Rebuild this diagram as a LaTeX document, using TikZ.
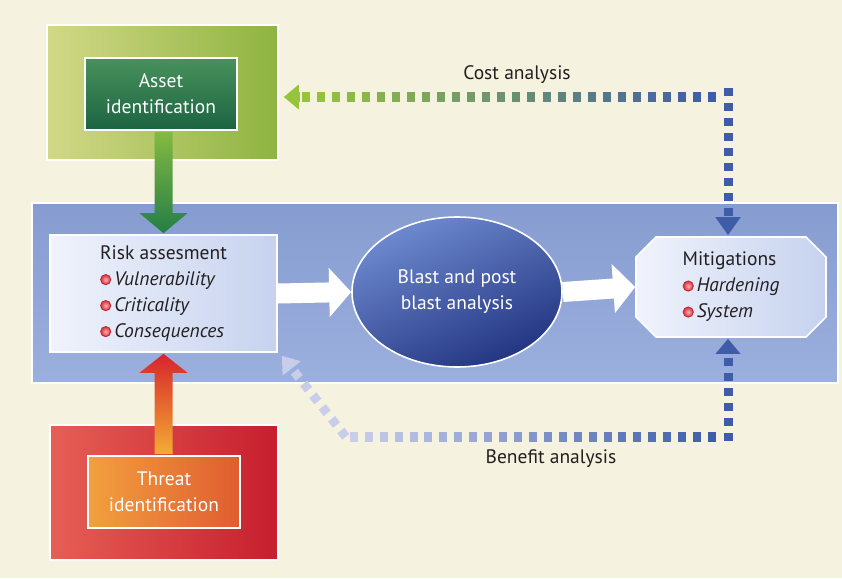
\documentclass[tikz,border=0pt]{standalone}
\usepackage{fontspec}
\setmainfont{PT Sans}
\usetikzlibrary{calc,arrows.meta,shapes.geometric,shapes.misc}

\definecolor{bgcream}{RGB}{246,242,224}
\definecolor{bandtop}{RGB}{134,156,208}
\definecolor{bandbot}{RGB}{156,176,222}
\definecolor{assetlt}{RGB}{210,216,135}
\definecolor{assetdk}{RGB}{142,180,64}
\definecolor{asinlt}{RGB}{72,145,92}
\definecolor{asindk}{RGB}{28,100,66}
\definecolor{threatlt}{RGB}{230,95,85}
\definecolor{threatdk}{RGB}{198,30,45}
\definecolor{orangelt}{RGB}{242,160,62}
\definecolor{orangedk}{RGB}{224,92,48}
\definecolor{riskl}{RGB}{240,243,252}
\definecolor{riskr}{RGB}{198,210,238}
\definecolor{blastlt}{RGB}{110,138,208}
\definecolor{blastdk}{RGB}{34,52,128}
\definecolor{gtop}{RGB}{132,186,66}
\definecolor{gbot}{RGB}{36,126,70}
\definecolor{rtop}{RGB}{214,36,44}
\definecolor{rbot}{RGB}{244,172,52}
\definecolor{cgreen}{RGB}{150,196,60}
\definecolor{cblue}{RGB}{62,92,168}
\definecolor{clav}{RGB}{200,206,234}
\definecolor{txt}{RGB}{35,31,32}
\definecolor{bulred}{RGB}{230,60,70}

\newcommand{\redball}{\tikz[baseline=-0.6ex]{\fill[bulred!80!black] (0,0) circle (5.6pt); \shade[inner color=bulred!40!white, outer color=bulred] (0,0) circle (4.4pt);}\kern3pt}

\begin{document}
\begin{tikzpicture}[x=1pt, y=-1pt,
    box/.style={draw=white, line width=1.6pt, inner sep=0pt},
    lbl/.style={font=\fontsize{19.5}{26}\selectfont, text=txt},
    sqdash/.style={line width=10pt},
    dotline/.style={line width=9pt, dash pattern=on 8pt off 7pt},
    blockarrow/.style={white, line width=20pt, -{Triangle[width=48pt,length=22pt]}}]
  \fill[bgcream] (0,0) rectangle (842,578);
  \useasboundingbox (0,0) rectangle (842,578);

  % blue band
  \shade[top color=bandtop, bottom color=bandbot, draw=white, line width=2pt] (32,203) rectangle (838,383);

  % asset and threat
  \node[box, minimum width=231pt, minimum height=135pt, left color=assetlt, right color=assetdk] (asset) at (162.5,92.5) {};
  \node[box, minimum width=152pt, minimum height=72pt, top color=asinlt, bottom color=asindk, lbl, text=white, align=center] (assetin) at (161,94) {Asset\\identification};
  \node[box, minimum width=228pt, minimum height=135pt, left color=threatlt, right color=threatdk] (threat) at (164,492.5) {};
  \node[box, minimum width=152pt, minimum height=72pt, left color=orangelt, right color=orangedk, lbl, text=white, align=center] (threatin) at (164,492) {Threat\\identification};

  % main chain
  \node[box, minimum width=227pt, minimum height=117pt, left color=riskl, right color=riskr, lbl, align=left] (risk) at (163.5,293.5)
    {Risk assesment\\ \redball\textit{Vulnerability}\\ \redball\textit{Criticality}\\ \redball\textit{Consequences}};
  \node[box, ellipse, minimum width=210pt, minimum height=150pt, top color=blastlt, bottom color=blastdk, shading angle=25, lbl, text=white, align=center] (blast) at (457,292) {Blast and post\\blast analysis};
  \node[box, chamfered rectangle, chamfered rectangle xsep=10pt, chamfered rectangle ysep=10pt, minimum width=190pt, minimum height=100pt, left color=riskl, right color=riskr, lbl, align=left] (mitig) at (731,287)
    {Mitigations\\ \redball\textit{Hardening}\\ \redball\textit{System}};

  \draw[blockarrow] (risk.east) -- (blast.west);
  \draw[blockarrow] (blast.east) -- (mitig.west);

  % green arrow down
  \coordinate (gtip) at ([yshift=1pt]risk.north);
  \coordinate (gbase) at ([yshift=20pt]gtip);
  \coordinate (gstart) at ([yshift=-1pt]gtip |- assetin.south);
  \shade[top color=gtop, bottom color=gbot] ([xshift=-9pt]gstart) -- ([xshift=9pt]gstart) -- ([xshift=9pt]gbase) -- ([xshift=24pt]gbase)
    -- (gtip) -- ([xshift=-24pt]gbase) -- ([xshift=-9pt]gbase) -- cycle;

  % red arrow up
  \coordinate (rtip) at ([yshift=-1pt]risk.south);
  \coordinate (rbase) at ([yshift=-19pt]rtip);
  \coordinate (rstart) at ([yshift=1pt]rtip |- threatin.north);
  \shade[top color=rtop, bottom color=rbot] ([xshift=-9pt]rstart) -- ([xshift=9pt]rstart) -- ([xshift=9pt]rbase) -- ([xshift=24pt]rbase)
    -- (rtip) -- ([xshift=-24pt]rbase) -- ([xshift=-9pt]rbase) -- cycle;

  % cost analysis
  \coordinate (costl) at ([xshift=5pt,yshift=-4.5pt]asset.east);
  \coordinate (costc) at ($(mitig.north |- costl)+(-3,0)$);
  \foreach \i in {0,...,27}{
    \pgfmathsetmacro\dpos{\i/27}
    \pgfmathtruncatemacro\dmix{100*\i/27}
    \draw[sqdash, cblue!\dmix!cgreen] ($([xshift=22pt]costl)!\dpos!([xshift=-16pt]costc)$) ++(-4,0) -- ++(8,0);
  }
  \draw[sqdash, cgreen, -{Triangle[width=24pt,length=15pt]}] ([xshift=16pt]costl) -- (costl);
  \draw[dotline, cblue, -{Triangle[width=24pt,length=18pt]}] ([yshift=9pt]costc) -- ([yshift=1pt]mitig.north -| costc);
  \node[lbl] (costlbl) at (517,75) {Cost analysis};

  % benefit analysis
  \coordinate (benl) at ([xshift=4pt,yshift=-3pt]risk.south east);
  \coordinate (bend) at ($(benl)+(64,81)$);
  \coordinate (benc) at ($(mitig.south |- bend)+(-3,0)$);
  \foreach \i in {0,...,24}{
    \pgfmathsetmacro\dpos{\i/24}
    \pgfmathtruncatemacro\dmix{100*\i/24}
    \draw[sqdash, cblue!\dmix!clav] ($([xshift=8pt]bend)!\dpos!([xshift=-16pt]benc)$) ++(-4,0) -- ++(8,0);
  }
  \draw[dotline, clav, -{Triangle[width=22pt,length=16pt]}] (bend) -- (benl);
  \draw[dotline, cblue, -{Triangle[width=24pt,length=15pt]}] ([yshift=-4pt]benc) -- ([yshift=-1pt]mitig.south -| benc);
  \node[lbl] (benlbl) at (551,459) {Benefit analysis};
\end{tikzpicture}
\end{document}
